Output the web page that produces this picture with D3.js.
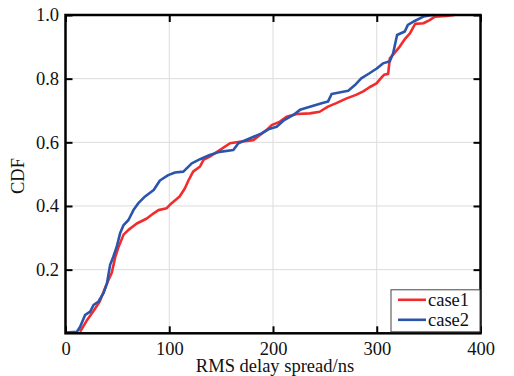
<!DOCTYPE html>
<html>
<head>
<meta charset="utf-8">
<script src="https://cdn.jsdelivr.net/npm/d3@7"></script>
<style>
  body { margin: 0; background: #fff; }
  text { font-family: "Liberation Serif", "Times New Roman", serif; }
</style>
</head>
<body>
<div id="rootDiv"></div>
<script>
const case1X = [14, 20.5, 27, 33, 40, 44.6, 48, 51, 56, 60.7, 68.7, 78, 85, 89.6, 97.6, 102, 110, 115, 118.5, 123, 129.7, 133, 139, 149, 158.6, 168, 181, 187.5, 194, 198.7, 206.7, 213, 222.8, 235.6, 245, 253, 261, 271, 280, 287, 293, 299.8, 304.7, 307, 311, 312.6, 317, 322, 327, 332, 337, 345, 351, 356, 367, 375]
const case1Y = [0.005, 0.04, 0.07, 0.1, 0.157, 0.19, 0.24, 0.27, 0.31, 0.325, 0.345, 0.36, 0.377, 0.387, 0.393, 0.408, 0.43, 0.455, 0.48, 0.508, 0.524, 0.545, 0.555, 0.576, 0.597, 0.602, 0.607, 0.623, 0.639, 0.654, 0.665, 0.68, 0.689, 0.691, 0.696, 0.712, 0.723, 0.738, 0.749, 0.76, 0.773, 0.785, 0.804, 0.812, 0.815, 0.864, 0.88, 0.9, 0.924, 0.942, 0.972, 0.974, 0.984, 0.995, 0.997, 1.0]
const case2X = [0, 11, 14, 19, 23.8, 27, 31.8, 36.6, 40, 43, 46, 49.4, 52.6, 56, 60.7, 65.5, 70, 76.7, 85, 91, 99, 105.6, 113.6, 121.7, 129.7, 139, 148.6, 161.8, 166.6, 178, 189, 195.5, 203.5, 210, 219.6, 226, 235.6, 246.9, 253, 256.5, 272.5, 279, 285, 293, 300, 306, 312.6, 315.8, 319.6, 327, 330, 337, 345, 354]
const case2Y = [0.002, 0.005, 0.02, 0.058, 0.068, 0.089, 0.1, 0.126, 0.157, 0.215, 0.24, 0.272, 0.314, 0.34, 0.356, 0.387, 0.408, 0.43, 0.45, 0.48, 0.497, 0.505, 0.508, 0.534, 0.547, 0.56, 0.57, 0.576, 0.597, 0.613, 0.628, 0.641, 0.649, 0.668, 0.686, 0.702, 0.712, 0.723, 0.728, 0.752, 0.762, 0.78, 0.801, 0.817, 0.832, 0.848, 0.855, 0.88, 0.937, 0.948, 0.969, 0.982, 0.995, 1.0]

const xTicks = [0, 100, 200, 300, 400]
const yTicks = [0.2, 0.4, 0.6, 0.8, 1.0]
const seriesNames = ["case1", "case2"]
const colors = ["#f22c2c", "#2b55ad"]

const margin = { top: 15, right: 33.5, bottom: 42.7, left: 65.5 }
const W = 514, H = 376
const width = W - margin.left - margin.right
const height = H - margin.top - margin.bottom
const fontSize = "18.5px"

const x = d3.scaleLinear().domain([0, 400]).range([0, width])
const y = d3.scaleLinear().domain([0, 1]).range([height, 0])

const svgBase = d3.select("#rootDiv").append("svg")
    .attr("width", W)
    .attr("height", H)
const svg = svgBase.append("g").attr("transform", `translate(${margin.left},${margin.top})`)

// grid
svg.append("g").selectAll("line").data(xTicks.slice(1, -1)).enter().append("line")
    .attr("x1", d => x(d)).attr("x2", d => x(d)).attr("y1", 0).attr("y2", height)
    .attr("stroke", "#dcdcdc").attr("stroke-width", 1)
svg.append("g").selectAll("line").data(yTicks.slice(0, -1)).enter().append("line")
    .attr("y1", d => y(d)).attr("y2", d => y(d)).attr("x1", 0).attr("x2", width)
    .attr("stroke", "#dcdcdc").attr("stroke-width", 1)

// curves
const line = d3.line().x(d => x(d[0])).y(d => y(d[1]))
const series = [d3.zip(case1X, case1Y), d3.zip(case2X, case2Y)]
series.forEach((s, i) => {
    svg.append("path").datum(s)
        .attr("d", line)
        .attr("fill", "none")
        .attr("stroke", colors[i])
        .attr("stroke-width", 2.6)
        .attr("stroke-linejoin", "round")
})

// axes, ticks inward on every side
const tickLen = 7
const xAxis = svg.append("g").attr("transform", `translate(0,${height})`)
    .call(d3.axisBottom(x).tickValues(xTicks).tickSizeInner(-tickLen).tickSizeOuter(0).tickPadding(9))
const yAxis = svg.append("g")
    .call(d3.axisLeft(y).tickValues(yTicks).tickFormat(d3.format(".1f")).tickSizeInner(-tickLen).tickSizeOuter(0).tickPadding(6.5))
const xTop = svg.append("g")
    .call(d3.axisTop(x).tickValues(xTicks).tickSizeInner(-tickLen).tickSizeOuter(0).tickFormat(""))
const yRight = svg.append("g").attr("transform", `translate(${width},0)`)
    .call(d3.axisRight(y).tickValues(yTicks).tickSizeInner(-tickLen).tickSizeOuter(0).tickFormat(""))

for (const axis of [xAxis, yAxis, xTop, yRight]) {
    axis.select(".domain").remove()
    axis.selectAll("line").attr("stroke", "#000").attr("stroke-width", 2)
    axis.selectAll("text").attr("fill", "#111").style("font-size", fontSize)
        .style("font-family", "'Liberation Serif', serif")
}

// frame
svg.append("rect").attr("width", width).attr("height", height)
    .attr("fill", "none").attr("stroke", "#000").attr("stroke-width", 2.5)

// legend
const legend = svg.append("g").attr("transform", `translate(${width - 89.5},${height - 43.5})`)
legend.append("rect").attr("width", 89).attr("height", 42)
    .attr("fill", "#fff").attr("stroke", "#444").attr("stroke-width", 1)
seriesNames.forEach((n, i) => {
    const ly = 10 + i * 20
    legend.append("line").attr("x1", 7).attr("x2", 35).attr("y1", ly).attr("y2", ly)
        .attr("stroke", colors[i]).attr("stroke-width", 2.6)
    legend.append("text").attr("x", 37).attr("y", ly + 6)
        .style("font-size", fontSize).attr("fill", "#111").text(n)
})

// axis titles (the reference crops this one at the bottom edge; kept just inside)
svgBase.append("text")
    .attr("x", 275).attr("y", 371.5)
    .attr("text-anchor", "middle").style("font-size", fontSize).attr("fill", "#111")
    .text("RMS delay spread/ns")
svgBase.append("text")
    .attr("transform", `translate(23.5,176) rotate(-90)`)
    .attr("text-anchor", "middle").style("font-size", fontSize).attr("fill", "#111")
    .text("CDF")
</script>
</body>
</html>
